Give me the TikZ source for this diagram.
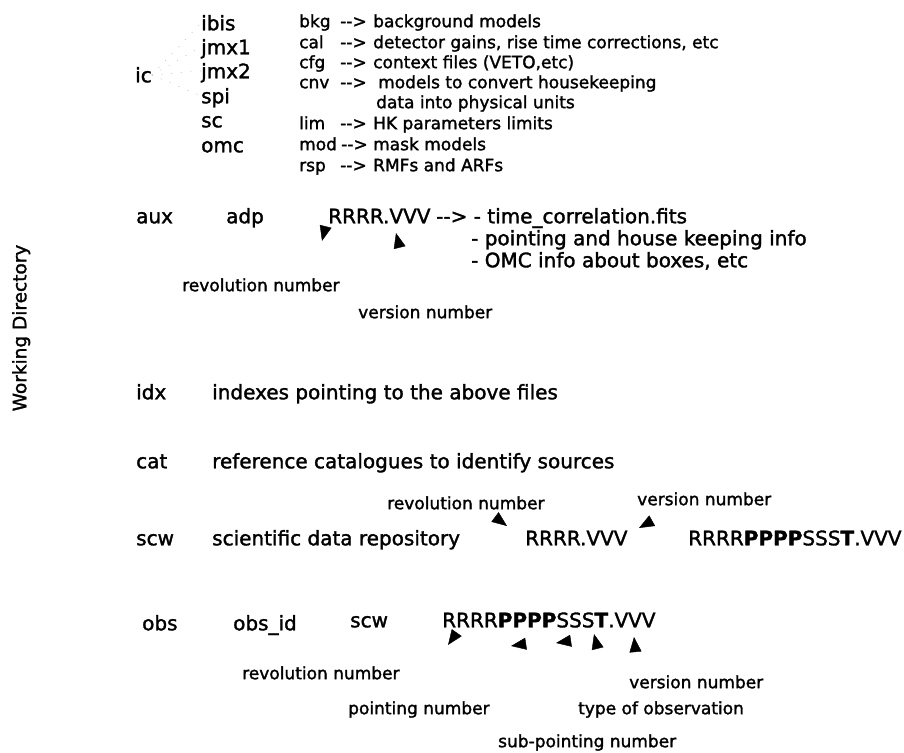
\documentclass[tikz,border=0pt]{standalone}
\usepackage{fontspec}
\setmainfont{DejaVu Sans}[FakeBold=1.6]
\usetikzlibrary{arrows.meta,calc,decorations.markings}
% hyphens kept apart so that they are not joined into a dash
\newcommand{\darr}{-\kern0pt-\kern0pt>}

\begin{document}
\begin{tikzpicture}[x=1pt, y=-1pt,
  dirtxt/.style={anchor=west, inner sep=0pt, font=\fontsize{20}{24}\selectfont, text height=14.6pt, text depth=0pt},
  notetxt/.style={anchor=west, inner sep=0pt, font=\fontsize{17}{20}\selectfont, text height=12.4pt, text depth=0pt},
  fanline/.style={draw=black!22, line width=0.7pt, dash pattern=on 0.7pt off 9pt, line cap=round},
  tipmark/.style={postaction={decorate}, decoration={markings, mark=at position 0.999 with {\arrow{Triangle[length=15pt,width=12pt]}}}}]
% Page frame, one unit = one pixel of the reference
\useasboundingbox (0,0) rectangle (904,752);
\node[dirtxt, font=\fontsize{18.5}{22}\selectfont, rotate=90, anchor=center] (wdir) at (19,328) {Working Directory};
% ic and its sub directories
\node[dirtxt] (ic) at (135,75) {ic};
\node[dirtxt] (ibis) at (201,23) {ibis};
\node[dirtxt] (jmxa) at (201,47) {jmx1};
\node[dirtxt] (jmxb) at (201,71) {jmx2};
\node[dirtxt] (spi) at (201,96) {spi};
\node[dirtxt] (sc) at (201,120) {sc};
\node[dirtxt] (omc) at (201,145) {omc};
\draw[fanline] (ic.east) -- (ibis.west);
\draw[fanline] (ic.east) -- (jmxa.west);
\draw[fanline] (ic.east) -- (jmxb.west);
\draw[fanline] (ic.east) -- (spi.west);
% Contents of each instrument directory
\node[notetxt] (bkg) at (299,21) {bkg};
\node[notetxt] (bkgarr) at (340,21) {\darr};
\node[notetxt] (bkgtxt) at (373,21) {background models};
\node[notetxt] (cal) at (299,42) {cal};
\node[notetxt] (calarr) at (340,42) {\darr};
\node[notetxt] (caltxt) at (373,42) {detector gains, rise time corrections, etc};
\node[notetxt] (cfg) at (299,62) {cfg};
\node[notetxt] (cfgarr) at (340,62) {\darr};
\node[notetxt] (cfgtxt) at (373,62) {context files (VETO,etc)};
\node[notetxt] (cnv) at (299,82) {cnv};
\node[notetxt] (cnvarr) at (340,82) {\darr};
\node[notetxt] (cnvtxt) at (378,82) {models to convert housekeeping};
\node[notetxt] (cnvtxtb) at (376,102) {data into physical units};
\node[notetxt] (lim) at (299,123) {lim};
\node[notetxt] (limarr) at (340,123) {\darr};
\node[notetxt] (limtxt) at (373,123) {HK parameters limits};
\node[notetxt] (mod) at (299,144) {mod};
\node[notetxt] (modarr) at (341,144) {\darr};
\node[notetxt] (modtxt) at (373,144) {mask models};
\node[notetxt] (rsp) at (299,165) {rsp};
\node[notetxt] (rsparr) at (340,165) {\darr};
\node[notetxt] (rsptxt) at (373,165) {RMFs and ARFs};
% aux
\node[dirtxt] (aux) at (136,216) {aux};
\node[dirtxt] (adp) at (226,216) {adp};
\node[dirtxt] (adpfile) at (328,216) {RRRR.VVV};
\node[dirtxt] (adptime) at (436,216) {\darr{} - time\_correlation.fits};
\node[dirtxt] (adpptg) at (471,238) {- pointing and house keeping info};
\node[dirtxt] (adpomc) at (471,260) {- OMC info about boxes, etc};
\node[notetxt] (auxrev) at (182,285) {revolution number};
\node[notetxt] (auxver) at (358,312) {version number};
\coordinate (auxrevtip) at (322,241);
\coordinate (auxvertip) at (396,233);
\path[tipmark] (auxrev) .. controls ($(auxrevtip)+(5,-20)$) .. (auxrevtip);
\path[tipmark] (auxver) .. controls ($(auxvertip)+(5,20)$) .. (auxvertip);
% idx and cat
\node[dirtxt] (idx) at (136,392) {idx};
\node[dirtxt] (idxtxt) at (212,392) {indexes pointing to the above files};
\node[dirtxt] (cat) at (136,461) {cat};
\node[dirtxt] (cattxt) at (212,461) {reference catalogues to identify sources};
% scw
\node[dirtxt] (scw) at (136,538) {scw};
\node[dirtxt] (scwtxt) at (212,538) {scientific data repository};
\node[dirtxt] (scwrrrr) at (525,538) {RRRR.VVV};
\node[dirtxt] (scwfile) at (688,538) {RRRR\textbf{PPPP}SSS\textbf{T}.VVV};
\node[notetxt] (scwrev) at (387,503) {revolution number};
\node[notetxt] (scwver) at (637,499) {version number};
\coordinate (scwrevtip) at (507,526);
\coordinate (scwvertip) at (639,528);
\path[tipmark] (scwrev) .. controls ($(scwrevtip)+(-16,-12)$) .. (scwrevtip);
\path[tipmark] (scwver) .. controls ($(scwvertip)+(18,-10)$) .. (scwvertip);
% obs
\node[dirtxt] (obs) at (142,623) {obs};
\node[dirtxt] (obsid) at (233,623) {obs\_id};
\node[dirtxt] (obsscw) at (350,620) {scw};
\node[dirtxt] (obsfile) at (442,620) {RRRR\textbf{PPPP}SSS\textbf{T}.VVV};
\node[notetxt] (obsrev) at (242,673) {revolution number};
\node[notetxt] (obsver) at (629,682) {version number};
\node[notetxt] (obsptg) at (348,708) {pointing number};
\node[notetxt] (obstype) at (578,708) {type of observation};
\node[notetxt] (obssub) at (498,741) {sub-pointing number};
\coordinate (obsrevtip) at (448,645);
\coordinate (obsptgtip) at (511,646);
\coordinate (obssubtip) at (556,643);
\coordinate (obstypetip) at (594,634);
\coordinate (obsvertip) at (634,637);
\path[tipmark] (obsrev) .. controls ($(obsrevtip)+(12,-17)$) .. (obsrevtip);
\path[tipmark] (obsptg) .. controls ($(obsptgtip)+(20,-3)$) .. (obsptgtip);
\path[tipmark] (obssub) .. controls ($(obssubtip)+(20,-3)$) .. (obssubtip);
\path[tipmark] (obstype) .. controls ($(obstypetip)+(5,20)$) .. (obstypetip);
\path[tipmark] (obsver) .. controls ($(obsvertip)+(2,20)$) .. (obsvertip);
\end{tikzpicture}
\end{document}
